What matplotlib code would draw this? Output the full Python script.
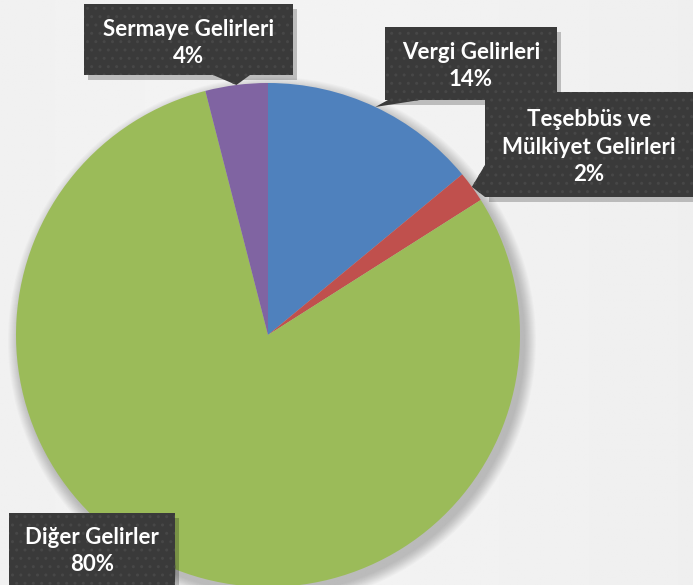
import numpy as np
import matplotlib.pyplot as plt
from matplotlib.patches import FancyBboxPatch, Polygon, Circle

labels = ["Vergi Gelirleri", "Teşebbüs ve\nMülkiyet Gelirleri", "Diğer Gelirler", "Sermaye Gelirleri"]
values = [14, 2, 80, 4]
colors = ["#4F81BD", "#C0504D", "#9BBB59", "#8064A2"]

W, H = 693, 585
fig = plt.figure(figsize=(W / 100, H / 100), dpi=100)
fig.patch.set_facecolor("#efefef")
ax = fig.add_axes([0, 0, 1, 1])

# soft background gradient
grad = np.linspace(0, 1, 256)
bg = 0.955 - 0.03 * np.outer(np.ones(256), np.abs(grad - 0.4))
ax.imshow(bg, extent=(0, W, 0, H), cmap="gray", vmin=0, vmax=1, zorder=0, aspect="auto")

cx, cy, r = 268, H - 335, 252

# soft drop shadow under the pie
for k in range(12):
    ax.add_patch(Circle((cx + 4, cy - 6), r + 12 - k, color="black", alpha=0.018, lw=0, zorder=1))

wedges, _ = ax.pie(values, colors=colors, startangle=90, counterclock=False,
                   center=(cx, cy), radius=r, wedgeprops=dict(linewidth=0))
for w in wedges:
    w.set_zorder(2)

ax.set_xlim(0, W)
ax.set_ylim(0, H)
ax.set_aspect("auto")
ax.axis("off")

plt.rcParams["hatch.linewidth"] = 1.0

# label boxes in pixel coords (x0, y_top, x1, y_bottom), pointer side/base, text centre y
boxes = {
    0: ((385, 27, 557, 100), "bottom", (388, 420), 66),
    1: ((485, 92, 693, 197), "left", (165, 197), 147),
    2: ((9, 513, 175, 598), "right", (552, 582), 551),
    3: ((84, 4, 293, 75), "bottom", (213, 250), 43),
}
pct = [f"{v}%" for v in values]

for i, w in enumerate(wedges):
    (x0, yt, x1, yb), side, base, ty = boxes[i]
    mid = np.deg2rad((w.theta1 + w.theta2) / 2)
    tip = (cx + r * np.cos(mid), cy + r * np.sin(mid))
    if side == "bottom":
        pts = [(base[0], H - yb), (base[1], H - yb), tip]
    elif side == "left":
        pts = [(x0, H - base[0]), (x0, H - base[1]), tip]
    else:
        pts = [(x1, H - base[0]), (x1, H - base[1]), tip]
    # shadow
    ax.add_patch(FancyBboxPatch((x0 + 4, H - yb - 5), x1 - x0, yb - yt, boxstyle="square,pad=0",
                                fc="black", alpha=0.22, lw=0, zorder=4))
    for fc, hatch in [("#3a3a3a", None), ("none", "..")]:
        ax.add_patch(FancyBboxPatch((x0, H - yb), x1 - x0, yb - yt, boxstyle="square,pad=0",
                                    fc=fc, ec="#474747" if hatch else "none", hatch=hatch,
                                    lw=0, zorder=5))
        ax.add_patch(Polygon(pts, closed=True, fc=fc, ec="#474747" if hatch else "none",
                             hatch=hatch, lw=0, zorder=5))
    ax.text((x0 + x1) / 2, H - ty, labels[i] + "\n" + pct[i], ha="center", va="center",
            color="white", fontsize=16, fontweight="bold", family="Lato",
            linespacing=1.4, zorder=6)

plt.savefig("out.png", dpi=100)
